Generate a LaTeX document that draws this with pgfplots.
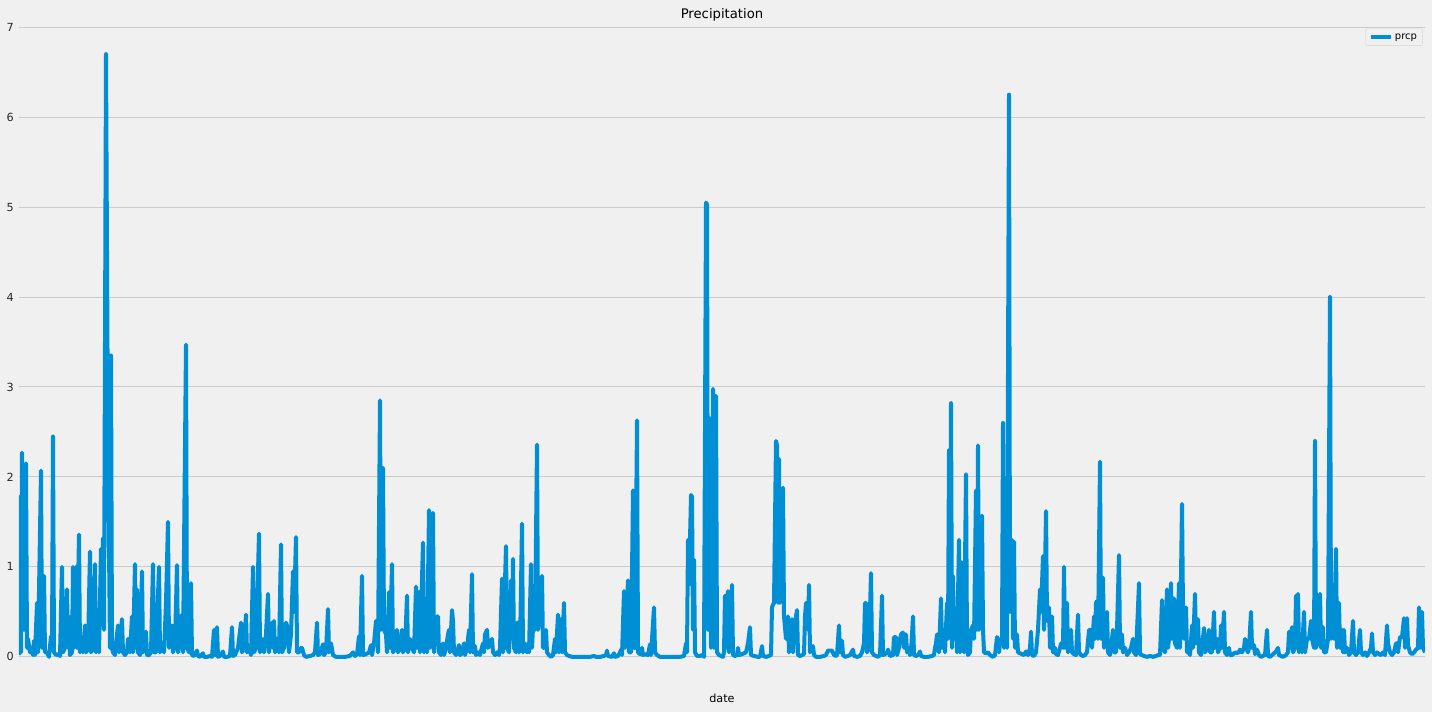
\documentclass[border=0pt]{standalone}
\usepackage{pgfplots}
\pgfplotsset{compat=1.18}
\usepackage{fontspec}
\setmainfont{DejaVu Sans}
\definecolor{bgc}{HTML}{F0F0F0}
\definecolor{gridc}{HTML}{CBCBCB}
\definecolor{linec}{HTML}{008FD5}
\definecolor{legc}{HTML}{D5D5D5}
\begin{document}
\begin{tikzpicture}
\fill[bgc] (0pt,0pt) rectangle (1432pt,712pt);
\path[use as bounding box] (0pt,0pt) rectangle (1432pt,712pt);
\begin{axis}[
  at={(19pt,25pt)}, anchor=south west,
  scale only axis, width=1406pt, height=663pt,
  xmin=19, xmax=1425, ymin=-0.335, ymax=7.035,
  axis background/.style={fill=bgc},
  axis line style={draw=none},
  xtick=\empty, ytick={0,1,2,3,4,5,6,7},
  major tick length=0pt,
  ymajorgrids, grid style={color=gridc, line width=1pt},
  /pgf/number format/assume math mode=true,
  ticklabel style={font=\fontsize{11.2}{13}\selectfont, text=black!85},
  yticklabel style={inner sep=0pt, xshift=-5pt, anchor=east},
  title={Precipitation},
  title style={at={(0.5,1)}, anchor=base, yshift=-0.2pt, font=\fontsize{13.2}{15}\selectfont, inner sep=0pt},
  xlabel={date},
  xlabel style={at={(0.5,0)}, anchor=base, yshift=-16pt, font=\fontsize{11.2}{13}\selectfont, inner sep=0pt},
  legend style={at={(0.9984,0.9935)}, anchor=north east, draw=legc, fill=bgc, rounded corners=2pt,
    font=\fontsize{10}{12}\selectfont, inner xsep=3.5pt, inner ysep=3pt},
  legend image code/.code={\draw[#1, line width=4pt, line cap=butt] (0pt,0pt) -- (20pt,0pt);},
]
\addplot[color=linec, line width=4pt, line join=round, mark=none] coordinates {
(19,0.02) (20,1.78) (21,0.05) (22,2.27) (24,0.3) (26,2.15) (27,0.1) (28,0.2) (30,0.05) (31,0.1) (33,0.02) (34,0.18) (35,0.02) (37,0.6) (38,0.05) (41,2.07) (42,0.1) (44,0.9) (45,0.05) (47,0.05) (49,0.0) (51,0.23) (52,0.1) (53,2.45) (54,0.05) (56,0.02) (58,0.03) (60,0.01) (62,1.0) (63,0.05) (65,0.1) (67,0.75) (68,0.1) (69,0.45) (70,0.02) (72,0.05) (73,1.0) (74,0.1) (76,1.0) (77,0.1) (79,1.36) (80,0.05) (82,0.2) (83,0.05) (85,0.35) (86,0.05) (88,0.1) (90,1.17) (91,0.05) (93,0.1) (95,1.03) (96,0.05) (97,0.3) (99,0.05) (101,1.2) (102,0.9) (103,1.32) (104,0.3) (106,6.7) (108,2.33) (110,0.1) (111,3.35) (112,0.1) (113,0.05) (115,0.02) (116,0.15) (118,0.35) (119,0.05) (121,0.3) (122,0.42) (123,0.05) (125,0.02) (127,0.05) (128,0.2) (130,0.05) (132,0.45) (133,0.05) (135,1.03) (136,0.1) (137,0.75) (138,0.05) (140,0.02) (142,0.95) (143,0.05) (146,0.28) (147,0.02) (149,0.02) (151,0.05) (153,1.03) (154,0.05) (156,0.05) (159,1.0) (160,0.05) (162,0.15) (164,0.05) (166,0.6) (168,1.5) (169,0.1) (172,0.35) (173,0.05) (175,0.15) (177,1.02) (178,0.05) (180,0.2) (182,0.47) (183,0.05) (186,3.47) (187,0.1) (189,0.05) (191,0.82) (192,0.02) (194,0.01) (197,0.07) (198,0.01) (200,0.0) (203,0.04) (204,0.0) (207,0.0) (210,0.01) (212,0.0) (214,0.3) (215,0.02) (217,0.33) (218,0.0) (220,0.01) (223,0.06) (224,0.0) (227,0.0) (230,0.01) (232,0.33) (233,0.01) (235,0.02) (238,0.1) (241,0.38) (242,0.05) (244,0.1) (246,0.47) (247,0.05) (249,0.1) (251,0.02)
(253,1.0) (254,0.05) (256,0.1) (259,1.37) (260,0.05) (262,0.2) (264,0.05) (266,0.25) (268,0.7) (269,0.05) (272,0.38) (273,0.1) (274,0.4) (275,0.05) (277,0.2) (279,0.05) (281,1.25) (282,0.05) (284,0.1) (286,0.38) (287,0.35) (289,0.05) (291,0.25) (293,0.95) (294,0.5) (296,1.33) (297,0.05) (299,0.05) (301,0.1) (302,0.1) (304,0.02) (306,0.0) (310,0.01) (313,0.02) (315,0.05) (317,0.38) (318,0.02) (320,0.03) (323,0.14) (324,0.02) (326,0.05) (328,0.53) (329,0.05) (331,0.15) (333,0.02) (336,0.0) (340,0.0) (345,0.0) (350,0.01) (353,0.05) (355,0.01) (357,0.03) (359,0.23) (360,0.02) (362,0.9) (363,0.02) (366,0.03) (369,0.05) (371,0.13) (372,0.02) (374,0.15) (376,0.4) (377,0.4) (378,0.05) (380,2.85) (381,0.3) (383,2.1) (384,0.3) (386,0.25) (387,0.05) (389,0.72) (390,0.1) (392,1.03) (393,0.05) (395,0.1) (397,0.3) (398,0.05) (400,0.1) (402,0.3) (403,0.05) (405,0.1) (407,0.68) (408,0.05) (410,0.2) (412,0.1) (414,0.05) (416,0.78) (417,0.1) (419,0.72) (420,0.05) (423,1.27) (424,0.05) (426,0.2) (427,0.05) (429,1.63) (430,0.1) (431,0.2) (433,1.6) (434,0.05) (437,0.45) (438,0.45) (439,0.05) (441,0.02) (443,0.15) (444,0.02) (446,0.1) (448,0.25) (449,0.3) (450,0.05) (452,0.52) (453,0.4) (454,0.05) (456,0.02) (459,0.13) (460,0.02) (462,0.04) (464,0.15) (465,0.02) (467,0.1) (469,0.3) (470,0.05) (472,0.92) (473,0.05) (475,0.12) (476,0.02) (478,0.05) (480,0.02) (483,0.15) (484,0.05) (485,0.25) (487,0.3) (488,0.1) (490,0.15) (492,0.2) (493,0.05) (495,0.02)
(497,0.05) (499,0.02) (500,0.1) (502,0.87) (503,0.05) (506,1.23) (507,0.1) (509,0.05) (511,0.85) (512,0.2) (513,1.09) (514,0.1) (516,0.05) (517,0.38) (518,0.38) (519,0.05) (520,0.1) (522,1.48) (523,0.05) (525,0.15) (527,0.05) (528,0.12) (529,0.05) (531,1.03) (532,0.1) (534,0.55) (535,0.3) (537,2.36) (538,0.3) (540,0.55) (542,0.9) (543,0.1) (544,0.1) (546,0.3) (547,0.05) (549,0.02) (551,0.0) (553,0.02) (555,0.2) (556,0.05) (558,0.47) (559,0.05) (561,0.42) (562,0.05) (564,0.6) (565,0.05) (567,0.02) (569,0.01) (572,0.0) (576,0.0) (580,0.0) (585,0.0) (590,0.0) (594,0.01) (596,0.0) (600,0.0) (604,0.01) (606,0.02) (607,0.07) (608,0.01) (612,0.0) (614,0.04) (615,0.0) (618,0.01) (620,0.05) (621,0.08) (622,0.02) (624,0.73) (625,0.1) (628,0.85) (629,0.05) (631,0.05) (633,1.85) (634,0.1) (635,0.1) (637,2.63) (638,0.05) (640,0.03) (642,0.1) (643,0.02) (645,0.03) (648,0.02) (650,0.14) (651,0.02) (654,0.55) (655,0.05) (657,0.02) (660,0.0) (665,0.0) (670,0.0) (675,0.0) (680,0.0) (684,0.01) (686,0.15) (687,0.05) (688,1.3) (689,0.8) (691,1.8) (692,1.78) (693,0.3) (694,1.08) (695,0.05) (697,0.01) (700,0.01) (702,0.02) (704,0.0) (706,5.05) (707,5.03) (708,0.3) (710,2.65) (711,0.1) (713,2.98) (714,0.1) (716,2.9) (717,0.05) (719,0.02) (721,0.01) (723,0.0) (724,0.05)
(725,0.68) (726,0.1) (728,0.73) (729,0.05) (731,0.6) (732,0.8) (733,0.02) (735,0.01) (737,0.02) (738,0.1) (739,0.02) (742,0.03) (744,0.04) (746,0.05) (748,0.15) (750,0.33) (751,0.02) (754,0.01) (758,0.0) (760,0.0) (762,0.12) (763,0.01) (766,0.0) (769,0.01) (771,0.02) (772,0.55) (773,0.58) (774,0.6) (776,2.4) (777,2.35) (778,0.6) (779,2.2) (780,0.6) (781,1.6) (783,1.88) (784,0.45) (786,0.2) (788,0.45) (789,0.05) (790,0.1) (792,0.42) (793,0.05) (795,0.38) (797,0.52) (798,0.02) (800,0.01) (802,0.02) (804,0.03) (805,0.45) (806,0.6) (808,0.3) (809,0.8) (810,0.05) (812,0.1) (813,0.12) (814,0.02) (816,0.0) (820,0.0) (824,0.01) (826,0.02) (828,0.07) (830,0.07) (832,0.07) (834,0.02) (836,0.01) (837,0.02) (839,0.35) (840,0.05) (842,0.18) (843,0.02) (845,0.0) (848,0.01) (850,0.02) (853,0.08) (854,0.01) (857,0.0) (860,0.01) (862,0.05) (864,0.15) (865,0.6) (866,0.6) (867,0.05) (869,0.1) (871,0.93) (872,0.05) (874,0.02) (876,0.01) (878,0.0) (880,0.02) (882,0.68) (883,0.02) (885,0.03) (887,0.05) (888,0.08) (890,0.01) (893,0.02) (894,0.22) (896,0.22) (897,0.02) (899,0.1) (901,0.25) (903,0.27) (904,0.1) (906,0.25) (907,0.05) (909,0.1) (910,0.02) (911,0.05) (913,0.45) (914,0.02) (916,0.01) (918,0.02) (920,0.06) (921,0.01) (924,0.0) (928,0.0) (932,0.01) (934,0.02) (935,0.1) (936,0.15) (937,0.25) (939,0.05) (941,0.65) (942,0.1) (944,0.3) (945,0.05) (947,0.6) (948,0.2) (949,2.3) (950,0.5) (951,2.82) (952,0.1) (953,0.9) (954,0.2) (956,0.5) (957,0.05) (959,1.3) (960,0.05) (961,0.6) (962,1.05) (963,1.0) (964,0.05) (966,2.03) (967,0.1)
(968,0.02) (970,0.05) (971,0.3) (973,0.35) (974,0.2) (976,1.85) (977,0.3) (978,2.35) (979,0.3) (980,0.5) (982,1.57) (983,0.3) (984,0.05) (986,0.04) (988,0.05) (990,0.02) (993,0.0) (995,0.02) (997,0.22) (998,0.2) (999,0.05) (1000,0.15) (1002,0.2) (1003,2.6) (1004,0.1) (1006,0.95) (1007,0.1) (1009,6.25) (1010,0.5) (1012,1.3) (1013,0.2) (1014,1.28) (1015,0.1) (1017,0.25) (1018,0.05) (1020,0.04) (1022,0.03) (1024,0.02) (1026,0.06) (1028,0.02) (1030,0.1) (1031,0.28) (1032,0.02) (1034,0.01) (1036,0.05) (1038,0.3) (1040,0.75) (1041,0.5) (1043,1.12) (1044,0.3) (1046,1.62) (1047,0.4) (1049,0.55) (1050,0.1) (1052,0.45) (1053,0.05) (1055,0.1) (1056,0.03) (1058,0.02) (1060,0.1) (1061,0.15) (1063,0.1) (1064,1.0) (1065,0.1) (1067,0.6) (1068,0.05) (1069,0.2) (1071,0.3) (1072,0.05) (1074,0.03) (1076,0.02) (1078,0.47) (1079,0.05) (1081,0.02) (1083,0.01) (1085,0.02) (1087,0.05) (1089,0.3) (1091,0.3) (1092,0.1) (1094,0.45) (1095,0.2) (1096,0.6) (1097,0.62) (1098,0.2) (1100,2.17) (1101,0.2) (1102,0.5) (1103,0.88) (1104,0.1) (1105,0.3) (1107,0.5) (1108,0.05) (1110,0.02) (1111,0.1) (1113,0.3) (1114,0.05) (1116,0.05) (1117,0.3) (1119,1.13) (1120,0.1) (1122,0.25) (1123,0.05) (1125,0.1) (1127,0.02) (1129,0.05) (1131,0.1) (1133,0.2) (1134,0.05) (1136,0.02) (1139,0.82) (1140,0.03) (1142,0.02) (1144,0.01) (1147,0.0) (1150,0.01) (1153,0.0) (1156,0.01) (1158,0.02) (1160,0.02) (1162,0.63) (1163,0.1) (1165,0.05) (1167,0.75) (1168,0.1) (1169,0.2) (1171,0.82) (1172,0.2) (1174,0.65) (1175,0.15) (1177,0.1) (1179,0.82) (1180,0.1) (1182,1.7) (1183,0.5) (1184,0.2) (1186,0.55) (1187,0.05) (1189,0.05) (1190,0.02)
(1192,0.35) (1193,0.1) (1195,0.7) (1196,0.15) (1198,0.42) (1199,0.05) (1201,0.02) (1202,0.1) (1204,0.32) (1205,0.05) (1207,0.1) (1209,0.3) (1210,0.05) (1212,0.05) (1214,0.5) (1215,0.1) (1217,0.2) (1218,0.05) (1220,0.1) (1221,0.35) (1222,0.1) (1224,0.5) (1225,0.05) (1227,0.02) (1229,0.1) (1230,0.02) (1232,0.02) (1234,0.04) (1236,0.05) (1238,0.04) (1240,0.08) (1242,0.05) (1244,0.1) (1245,0.2) (1246,0.1) (1248,0.05) (1249,0.1) (1251,0.5) (1252,0.1) (1254,0.13) (1255,0.03) (1257,0.08) (1259,0.02) (1261,0.0) (1263,0.01) (1265,0.02) (1267,0.3) (1268,0.01) (1270,0.0) (1272,0.02) (1274,0.04) (1276,0.06) (1278,0.1) (1279,0.02) (1281,0.01) (1283,0.0) (1286,0.02) (1288,0.05) (1289,0.28) (1290,0.1) (1292,0.33) (1293,0.05) (1295,0.1) (1296,0.68) (1297,0.2) (1298,0.7) (1299,0.05) (1301,0.2) (1302,0.05) (1304,0.5) (1305,0.05) (1307,0.2) (1309,0.2) (1311,0.4) (1312,0.2) (1314,0.1) (1315,2.4) (1316,0.1) (1318,0.2) (1320,0.7) (1321,0.1) (1323,0.33) (1324,0.05) (1326,0.05) (1328,0.2) (1330,4.0) (1331,0.2) (1333,0.8) (1334,0.2) (1336,1.2) (1337,0.1) (1339,0.6) (1340,0.1) (1342,0.3) (1343,0.05) (1344,0.3) (1345,0.05) (1347,0.1) (1349,0.02) (1351,0.05) (1353,0.4) (1354,0.05) (1356,0.02) (1358,0.05) (1360,0.3) (1361,0.05) (1363,0.02) (1365,0.05) (1367,0.01) (1369,0.05) (1371,0.1) (1372,0.26) (1373,0.05) (1375,0.02) (1377,0.05) (1379,0.03) (1381,0.02) (1383,0.05) (1385,0.02) (1387,0.35) (1388,0.15) (1390,0.05) (1392,0.02) (1394,0.05) (1396,0.15) (1397,0.15) (1398,0.05) (1400,0.22) (1402,0.22) (1404,0.43) (1405,0.1) (1407,0.43) (1408,0.13) (1410,0.05) (1412,0.03) (1414,0.05) (1416,0.08) (1418,0.1) (1419,0.55) (1420,0.1) (1422,0.5) (1423,0.1) (1425,0.05)
};
\addlegendentry{prcp}
\end{axis}
\end{tikzpicture}
\end{document}
